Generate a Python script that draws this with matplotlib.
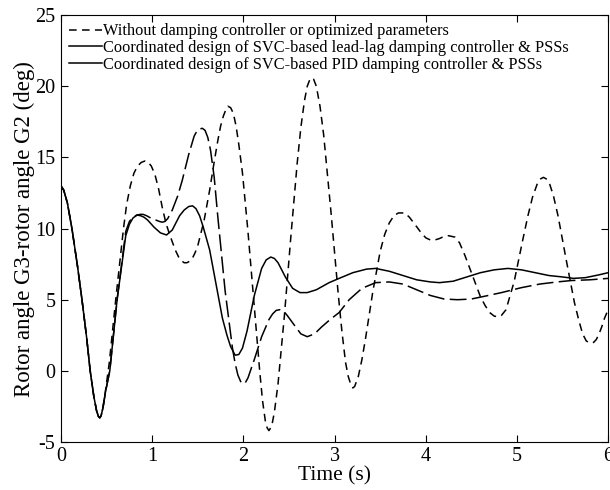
import matplotlib
matplotlib.use("Agg")
import matplotlib.pyplot as plt
from matplotlib.lines import Line2D

plt.rcParams['font.family'] = ['Liberation Serif', 'DejaVu Serif']
plt.rcParams['axes.unicode_minus'] = False

# no damping controller (dashed)
t_none = [0, 0.03, 0.07, 0.12, 0.18, 0.23, 0.28, 0.32, 0.36, 0.39, 0.41, 0.425,
          0.44, 0.46, 0.49, 0.53, 0.6, 0.685, 0.72, 0.76, 0.8, 0.84, 0.88, 0.92,
          0.95, 0.99, 1.03, 1.07, 1.11, 1.15, 1.19, 1.23, 1.26, 1.29, 1.32, 1.35,
          1.38, 1.41, 1.44, 1.47, 1.5, 1.57, 1.63, 1.68, 1.72, 1.75, 1.78, 1.81,
          1.83, 1.86, 1.89, 1.92, 1.95, 1.99, 2.05, 2.11, 2.15, 2.18, 2.21, 2.24,
          2.26, 2.28, 2.31, 2.34, 2.38, 2.45, 2.52, 2.59, 2.63, 2.67, 2.7, 2.73,
          2.75, 2.77, 2.8, 2.84, 2.88, 2.96, 3.04, 3.08, 3.12, 3.15, 3.18, 3.2,
          3.22, 3.26, 3.3, 3.34, 3.42, 3.5, 3.55, 3.6, 3.65, 3.7, 3.77, 3.82,
          3.88, 3.95, 4.0, 4.05, 4.1, 4.15, 4.2, 4.25, 4.32, 4.37, 4.43, 4.5,
          4.6, 4.65, 4.7, 4.75, 4.79, 4.83, 4.88, 4.97, 5.06, 5.12, 5.17, 5.22,
          5.26, 5.29, 5.32, 5.36, 5.4, 5.45, 5.54, 5.63, 5.68, 5.72, 5.76, 5.8,
          5.84, 5.87, 5.9, 5.93, 5.96, 6.0]
y_none = [13.0, 12.7, 11.8, 10.0, 7.4, 5.0, 2.4, 0.0, -1.8, -2.8, -3.2, -3.3,
          -3.15, -2.6, -1.3, 0.6, 5.0, 10.0, 11.7, 13.0, 13.9, 14.4, 14.65, 14.75,
          14.7, 14.4, 13.8, 12.8, 11.5, 10.4, 9.6, 8.9, 8.4, 8.0, 7.75, 7.6,
          7.6, 7.7, 7.9, 8.3, 8.8, 10.6, 12.7, 14.7, 16.2, 17.2, 17.9, 18.4,
          18.6, 18.5, 18.1, 17.2, 15.9, 13.9, 9.8, 5.2, 2.1, -0.1, -2.1, -3.5,
          -4.0, -4.2, -3.9, -2.9, -0.9, 3.9, 9.4, 14.6, 17.1, 19.0, 20.0, 20.5,
          20.6, 20.5, 20.0, 18.6, 16.6, 11.2, 5.4, 2.8, 0.6, -0.4, -1.0, -1.2,
          -1.1, -0.4, 0.8, 2.3, 5.6, 8.4, 9.6, 10.4, 10.9, 11.1, 11.1, 10.8,
          10.3, 9.7, 9.35, 9.2, 9.2, 9.3, 9.45, 9.5, 9.4, 9.0, 8.1, 6.9,
          5.2, 4.6, 4.1, 3.85, 3.8, 3.9, 4.3, 6.3, 9.1, 10.9, 12.2, 13.1,
          13.5, 13.6, 13.5, 13.1, 12.3, 10.9, 7.8, 4.8, 3.5, 2.6, 2.1, 1.95,
          2.0, 2.2, 2.6, 3.1, 3.7, 4.3]

# lead-lag controller & PSSs
t_ll = [0, 0.03, 0.07, 0.12, 0.18, 0.23, 0.28, 0.32, 0.36, 0.39, 0.41, 0.425,
        0.44, 0.46, 0.49, 0.535, 0.615, 0.71, 0.75, 0.79, 0.83, 0.87, 0.9, 0.94,
        0.967, 1.0, 1.04, 1.08, 1.11, 1.14, 1.17, 1.22, 1.28, 1.33, 1.4, 1.46,
        1.49, 1.52, 1.55, 1.58, 1.61, 1.64, 1.68, 1.72, 1.8, 1.88, 1.91, 1.94,
        1.97, 1.99, 2.02, 2.05, 2.12, 2.2, 2.28, 2.32, 2.36, 2.4, 2.44, 2.48,
        2.56, 2.63, 2.7, 2.78, 2.86, 2.95, 3.05, 3.16, 3.3, 3.45, 3.6, 3.75,
        3.9, 4.05, 4.2, 4.35, 4.5, 4.65, 4.83, 5.05, 5.25, 5.44, 5.6, 5.8,
        6.0]
y_ll = [13.0, 12.7, 11.8, 10.0, 7.4, 5.0, 2.4, 0.0, -1.8, -2.8, -3.2, -3.3,
        -3.15, -2.6, -1.4, 0.0, 5.0, 9.8, 10.5, 10.8, 10.95, 11.0, 11.0, 10.9,
        10.8, 10.7, 10.6, 10.5, 10.45, 10.5, 10.7, 11.3, 12.3, 13.4, 15.2, 16.5,
        16.85, 17.0, 17.05, 16.9, 16.4, 15.5, 13.6, 10.8, 5.6, 1.6, 0.5, -0.3,
        -0.75, -0.9, -0.85, -0.5, 0.8, 2.4, 3.6, 4.0, 4.25, 4.3, 4.2, 3.9,
        3.2, 2.6, 2.4, 2.6, 3.1, 3.6, 4.1, 5.0, 5.8, 6.2, 6.25, 6.1,
        5.7, 5.3, 5.05, 5.0, 5.05, 5.25, 5.5, 5.85, 6.1, 6.25, 6.35, 6.4,
        6.5]

# PID controller & PSSs
t_pid = [0, 0.03, 0.07, 0.12, 0.18, 0.23, 0.28, 0.32, 0.36, 0.39, 0.41, 0.425,
         0.44, 0.46, 0.49, 0.535, 0.615, 0.71, 0.75, 0.79, 0.835, 0.875, 0.91, 0.95,
         1.02, 1.09, 1.157, 1.22, 1.3, 1.35, 1.4, 1.443, 1.48, 1.52, 1.56, 1.63,
         1.7, 1.77, 1.82, 1.86, 1.91, 1.95, 1.99, 2.04, 2.12, 2.2, 2.25, 2.3,
         2.34, 2.38, 2.46, 2.54, 2.62, 2.7, 2.8, 2.94, 3.05, 3.2, 3.35, 3.45,
         3.6, 3.75, 3.9, 4.05, 4.15, 4.3, 4.45, 4.6, 4.75, 4.9, 5.05, 5.2,
         5.35, 5.5, 5.62, 5.75, 5.9, 6.0]
y_pid = [13.0, 12.7, 11.8, 10.0, 7.4, 5.0, 2.4, 0.0, -1.8, -2.8, -3.2, -3.3,
         -3.15, -2.6, -1.4, 0.0, 5.0, 9.5, 10.3, 10.75, 10.95, 10.9, 10.8, 10.6,
         10.1, 9.7, 9.55, 9.9, 10.9, 11.3, 11.55, 11.6, 11.4, 10.9, 10.1, 8.5,
         6.1, 3.7, 2.5, 1.7, 1.1, 1.15, 1.6, 2.8, 5.3, 7.2, 7.8, 8.0,
         7.9, 7.6, 6.6, 5.8, 5.5, 5.5, 5.7, 6.2, 6.5, 6.9, 7.15, 7.2,
         7.0, 6.7, 6.4, 6.25, 6.2, 6.3, 6.6, 6.9, 7.1, 7.2, 7.1, 6.9,
         6.7, 6.6, 6.5, 6.55, 6.75, 6.9]

labels = ["Without damping controller or optimized parameters",
          "Coordinated design of SVC-based lead-lag damping controller & PSSs",
          "Coordinated design of SVC-based PID damping controller & PSSs"]

fig = plt.figure(figsize=(6.1, 4.9), dpi=100)
ax = fig.add_axes([0.1, 0.098, 0.897, 0.871])

ax.plot(t_none, y_none, color='k', lw=1.1, dashes=(5, 3.5))
ax.plot(t_ll, y_ll, color='k', lw=1.1, dashes=(11, 3.5))
ax.plot(t_pid, y_pid, color='k', lw=1.1)

ax.set_xlim(0, 6)
ax.set_ylim(-5, 25)
ax.set_xticks(range(0, 7))
ax.set_yticks(range(-5, 30, 5))
ax.tick_params(direction='in', top=True, right=True, length=5, labelsize=14.5)
ax.tick_params(axis='x', pad=3.5)
ax.tick_params(axis='y', pad=4)
ax.set_xlabel("Time (s)", fontsize=15.5, labelpad=0.5)
ax.set_ylabel("Rotor angle G3-rotor angle G2 (deg)", fontsize=16.5, labelpad=0)

# legend samples as drawn in the original (lead-lag sample looks solid)
handles = [Line2D([], [], color='k', lw=1.1, dashes=(5, 3.5)),
           Line2D([], [], color='k', lw=1.1),
           Line2D([], [], color='k', lw=1.1)]
ax.legend(handles, labels, loc='upper left', frameon=False, fontsize=11.8,
          handlelength=2.0, handletextpad=0.05, labelspacing=0.05,
          borderaxespad=0.2, borderpad=0.3)

fig.savefig("out.png", dpi=100)
